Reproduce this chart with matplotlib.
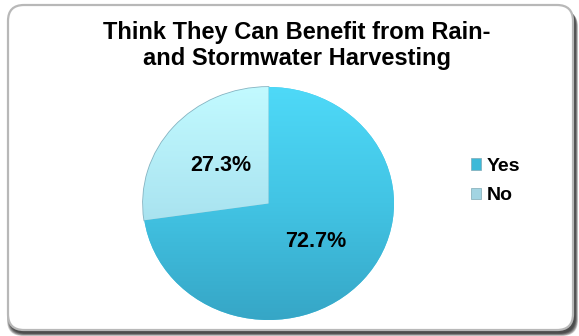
import numpy as np
import matplotlib
matplotlib.use("Agg")
import matplotlib.pyplot as plt
from matplotlib.colors import LinearSegmentedColormap
from matplotlib.patches import FancyBboxPatch, Patch

labels = ["Yes", "No"]
shares = [72.7, 27.3]
title_lines = ["Think They Can Benefit from Rain-", "and Stormwater Harvesting"]

# top -> bottom shades for each slice
shades = {
    "Yes": ["#4ED9F8", "#42C4E4", "#36A6C6"],
    "No": ["#C2FAFF", "#ACE6F2", "#98CCDC"],
}
swatch = {"Yes": "#3DB9D8", "No": "#A2D4E2"}

W, H = 579, 336
fig = plt.figure(figsize=(W / 100, H / 100), dpi=100)
font = dict(fontweight="bold", family="Liberation Sans", color="black")

# rounded frame with a soft drop shadow, drawn in pixel units
bg = fig.add_axes([0, 0, 1, 1], zorder=0)
bg.set_xlim(0, W)
bg.set_ylim(0, H)
bg.axis("off")
x0, y0, bw, bh, rad = 8, 6, 565, 325, 16
for i in range(6, 0, -1):
    bg.add_patch(FancyBboxPatch((x0 + 2 - i * 0.5, y0 - 3 - i * 0.5), bw + i, bh,
                                boxstyle=f"round,pad=0,rounding_size={rad}",
                                fc="black", ec="none", alpha=0.18))
bg.add_patch(FancyBboxPatch((x0, y0), bw, bh,
                            boxstyle=f"round,pad=0,rounding_size={rad}",
                            fc="white", ec="#B8B8B8", lw=1.6))

for line, base in zip(title_lines, [39, 65]):
    fig.text(297 / W, 1 - base / H, line, ha="center", va="baseline",
             fontsize=17, **font)

# the pie is drawn slightly wider than tall
cx, cy, rx, ry = 268.5, 203.5, 125.5, 116.5
ax = fig.add_axes([(cx - rx) / W, (H - cy - ry) / H, 2 * rx / W, 2 * ry / H], zorder=1)
wedges, texts, autotexts = ax.pie(
    shares, startangle=90, counterclock=False, radius=1,
    autopct="%.1f%%", pctdistance=0.5,
    wedgeprops=dict(lw=0),
    textprops=dict(fontsize=15.5, **font),
)
ax.set_aspect("auto")

grad = np.linspace(0, 1, 256).reshape(-1, 1)
for w, name in zip(wedges, labels):
    cmap = LinearSegmentedColormap.from_list(name, shades[name])
    im = ax.imshow(grad, extent=[-1, 1, -1, 1], origin="upper", cmap=cmap,
                   aspect="auto", zorder=w.get_zorder() + 0.1)
    im.set_clip_path(w)
    w.set_facecolor(shades[name][1])
wedges[1].set_edgecolor("#86B4C2")
wedges[1].set_linewidth(1.2)
ax.set_xlim(-1, 1)
ax.set_ylim(-1, 1)
for t in autotexts:
    t.set_zorder(5)

handles = [Patch(fc=swatch[n], ec="#7FA9B5", lw=0.5) for n in labels]
fig.legend(handles, labels, loc="upper left", bbox_to_anchor=(463 / W, 1 - 150 / H),
           frameon=False, handlelength=0.55, handleheight=0.55, handletextpad=0.25,
           labelspacing=0.65, borderaxespad=0,
           prop=dict(size=14, weight="bold", family="Liberation Sans"))

fig.savefig("out.png", dpi=100)
